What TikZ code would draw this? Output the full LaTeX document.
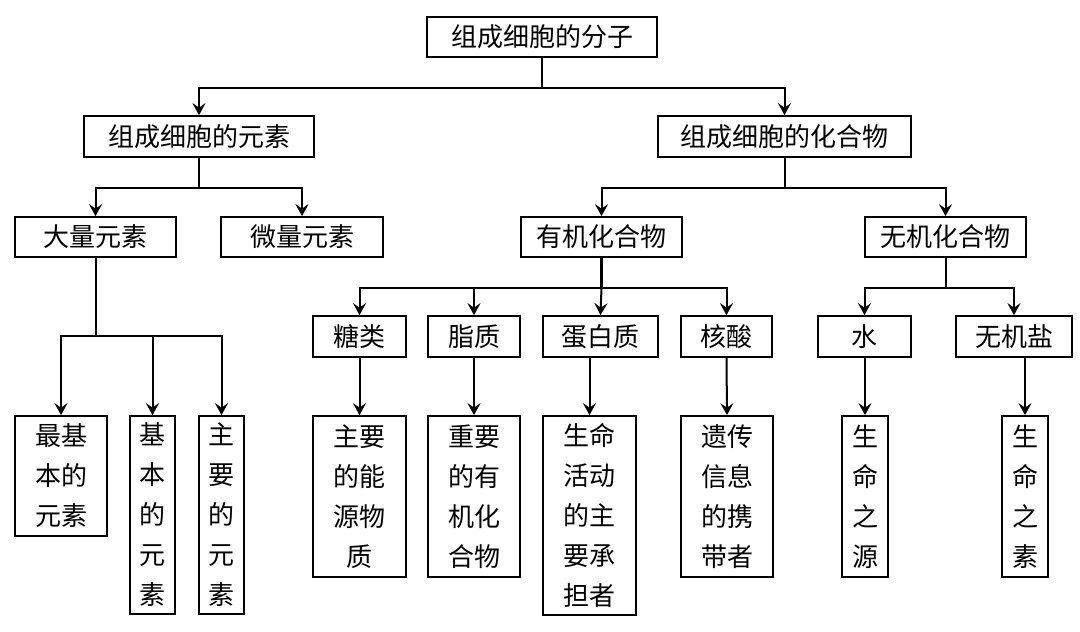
\documentclass[tikz,border=0pt]{standalone}
\usepackage{fontspec}
\newfontfamily\cjk{Noto Sans CJK SC}
\usetikzlibrary{arrows.meta}
\begin{document}
\begin{tikzpicture}[x=1pt,y=-1pt,
  box/.style={draw,line width=1.7pt,rectangle,inner sep=0pt,
    font=\cjk\fontsize{26}{40}\selectfont,align=center},
  conn/.style={line width=2pt},
  arr/.style={conn,-{Stealth[length=12pt,width=13pt,inset=4.5pt]}}]
\useasboundingbox[fill=white] (0,0) rectangle (1080,632);
% level 0
\node[box,minimum width=230pt,minimum height=40pt] (root) at (542,37) {组成细胞的分子};
% level 1
\node[box,minimum width=230pt,minimum height=41pt] (elem) at (199,136.5) {组成细胞的元素};
\node[box,minimum width=253pt,minimum height=41pt] (comp) at (784.5,136.5) {组成细胞的化合物};
% level 2
\node[box,minimum width=161pt,minimum height=40pt] (major) at (95.5,237) {大量元素};
\node[box,minimum width=162pt,minimum height=40pt] (trace) at (302,237) {微量元素};
\node[box,minimum width=161pt,minimum height=40pt] (org) at (601.5,237) {有机化合物};
\node[box,minimum width=161pt,minimum height=40pt] (inorg) at (945.5,237) {无机化合物};
% level 3
\node[box,minimum width=93pt,minimum height=41pt] (sugar) at (359.5,336.5) {糖类};
\node[box,minimum width=92pt,minimum height=41pt] (lipid) at (474,336.5) {脂质};
\node[box,minimum width=115pt,minimum height=41pt] (protein) at (600.5,336.5) {蛋白质};
\node[box,minimum width=91pt,minimum height=41pt] (nucleic) at (726.5,336.5) {核酸};
\node[box,minimum width=93pt,minimum height=41pt] (water) at (864.5,336.5) {水};
\node[box,minimum width=116pt,minimum height=41pt] (salt) at (1014,336.5) {无机盐};
% level 4
\node[box,minimum width=92pt,minimum height=120pt] (basicA) at (61,476) {最基\\本的\\元素};
\node[box,minimum width=45pt,minimum height=198pt] (basicB) at (152.5,515) {基\\本\\的\\元\\素};
\node[box,minimum width=45pt,minimum height=198pt] (mainel) at (221.5,515) {主\\要\\的\\元\\素};
\node[box,minimum width=93pt,minimum height=161pt] (energy) at (359.5,496.5) {主要\\的能\\源物\\质};
\node[box,minimum width=92pt,minimum height=161pt] (orgmat) at (474,496.5) {重要\\的有\\机化\\合物};
\node[box,minimum width=93pt,minimum height=199pt] (lifeact) at (589.5,515.5) {生命\\活动\\的主\\要承\\担者};
\node[box,minimum width=92pt,minimum height=161pt] (genetic) at (727,496.5) {遗传\\信息\\的携\\带者};
\node[box,minimum width=46pt,minimum height=161pt] (source) at (865,496.5) {生\\命\\之\\源};
\node[box,minimum width=46pt,minimum height=161pt] (vital) at (1025,496.5) {生\\命\\之\\素};
% bar levels
\coordinate (yA) at (0,88);
\coordinate (yB) at (0,188);
\coordinate (yC) at (0,288);
\coordinate (yD) at (0,336);
% connectors
\draw[conn] (root.south) -- (root.south |- yA);
\draw[arr] (root.south |- yA) -| (elem.north);
\draw[arr] (root.south |- yA) -| (comp.north);
\draw[conn] (elem.south) -- (elem.south |- yB);
\draw[arr] (elem.south |- yB) -| (major.north);
\draw[arr] (elem.south |- yB) -| (trace.north);
\draw[conn] (comp.south) -- (comp.south |- yB);
\draw[arr] (comp.south |- yB) -| (org.north);
\draw[arr] (comp.south |- yB) -| (inorg.north);
\draw[conn,line width=3.5pt] (org.south) -- (org.south |- yC);
\draw[arr] (org.south |- yC) -| (sugar.north);
\draw[arr] (org.south |- yC) -| (lipid.north);
\draw[arr] (org.south |- yC) -- (protein.north);
\draw[arr] (org.south |- yC) -| (nucleic.north);
\draw[conn] (inorg.south) -- (inorg.south |- yC);
\draw[arr] (inorg.south |- yC) -| (water.north);
\draw[arr] (inorg.south |- yC) -| (salt.north);
\draw[conn] (major.south) -- (major.south |- yD);
\draw[arr] (major.south |- yD) -| (basicA.north);
\draw[arr] (major.south |- yD) -| (basicB.north);
\draw[arr] (major.south |- yD) -| (mainel.north);
\draw[arr] (sugar) -- (energy);
\draw[arr] (lipid) -- (orgmat);
\draw[arr] (lifeact.north |- protein.south) -- (lifeact.north);
\draw[arr] (nucleic.south) -- (genetic.north);
\draw[arr] (source.north |- water.south) -- (source.north);
\draw[arr] (vital.north |- salt.south) -- (vital.north);
\end{tikzpicture}
\end{document}
